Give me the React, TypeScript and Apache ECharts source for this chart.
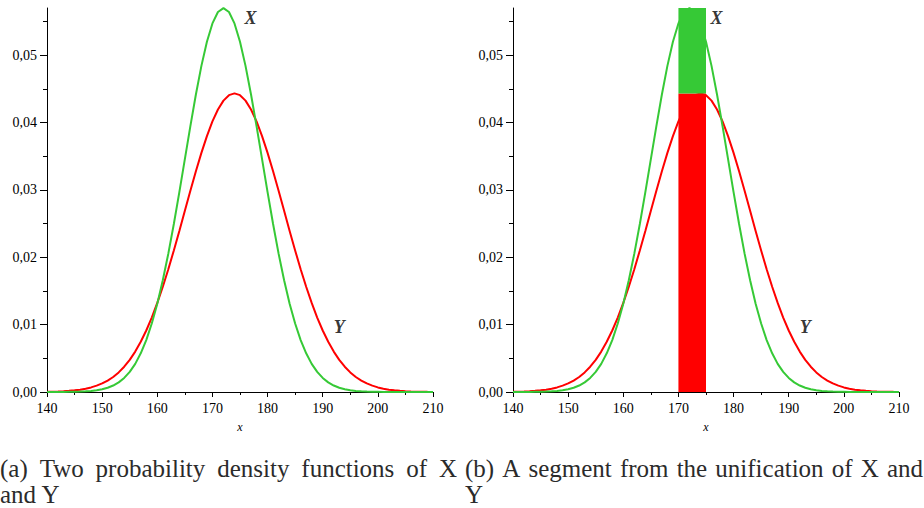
import React, { useEffect, useRef } from "react";
import * as echarts from "echarts";

// x positions sampled along the curves
const xValues = [140, 141, 142, 143, 144, 145, 146, 147, 148, 149, 150, 151, 152, 153, 154, 155, 156, 157, 158, 159, 160, 161, 162, 163, 164, 165, 166, 167, 168, 169, 170, 171, 172, 173, 174, 175, 176, 177, 178, 179, 180, 181, 182, 183, 184, 185, 186, 187, 188, 189, 190, 191, 192, 193, 194, 195, 196, 197, 198, 199, 200, 201, 202, 203, 204, 205, 206, 207, 208, 209, 210];
// density of X (green)
const densityX = [0.000002, 0.000003, 0.000006, 0.00001, 0.00002, 0.00003, 0.00006, 0.0001, 0.00016, 0.00026, 0.00041, 0.00063, 0.00096, 0.00143, 0.00209, 0.00299, 0.00418, 0.00574, 0.00771, 0.01016, 0.01311, 0.01658, 0.02054, 0.02494, 0.02966, 0.03457, 0.03947, 0.04416, 0.04841, 0.05199, 0.05471, 0.05641, 0.05699, 0.05641, 0.05471, 0.05199, 0.04841, 0.04416, 0.03947, 0.03457, 0.02966, 0.02494, 0.02054, 0.01658, 0.01311, 0.01016, 0.00771, 0.00574, 0.00418, 0.00299, 0.00209, 0.00143, 0.00096, 0.00063, 0.00041, 0.00026, 0.00016, 0.0001, 0.00006, 0.00003, 0.00002, 0.00001, 0.000006, 0.000003, 0.000002, 0, 0, 0, 0, 0, 0];
// density of Y (red)
const densityY = [0.00004, 0.00005, 0.00008, 0.00012, 0.00017, 0.00025, 0.00035, 0.00049, 0.00068, 0.00094, 0.00127, 0.00169, 0.00223, 0.00291, 0.00375, 0.00477, 0.006, 0.00745, 0.00913, 0.01105, 0.01322, 0.01562, 0.01822, 0.02101, 0.02391, 0.02689, 0.02986, 0.03276, 0.0355, 0.03799, 0.04016, 0.04193, 0.04325, 0.04406, 0.04433, 0.04406, 0.04325, 0.04193, 0.04016, 0.03799, 0.0355, 0.03276, 0.02986, 0.02689, 0.02391, 0.02101, 0.01822, 0.01562, 0.01322, 0.01105, 0.00913, 0.00745, 0.006, 0.00477, 0.00375, 0.00291, 0.00223, 0.00169, 0.00127, 0.00094, 0.00068, 0.00049, 0.00035, 0.00025, 0.00017, 0.00012, 0.00008, 0.00005, 0.00004, 0.00002, 0.00001];

// segment in panel (b): [xStart, xEnd, yFrom, yTo]
const segmentRed = [170, 175, 0, 0.0443];
const segmentGreen = [170, 175, 0.0443, 0.057];

const xMajorTicks = [140, 150, 160, 170, 180, 190, 200, 210];
const xMinorTicks = [145, 155, 165, 175, 185, 195, 205];
const yMajorTicks = [0, 0.01, 0.02, 0.03, 0.04, 0.05];
const yMinorTicks = [0.005, 0.015, 0.025, 0.035, 0.045, 0.055];

const labelX = [176.9, 0.0555];
const labelY = [193.0, 0.0096];

const captionA1 = ["(a)", "Two", "probability", "density", "functions", "of", "X"];
const captionA2 = "and Y";
const captionB1 = ["(b)", "A", "segment", "from", "the", "unification", "of", "X", "and"];
const captionB2 = "Y";

const GREEN = "#36c936";
const RED = "#ff0000";
const SERIF = "Liberation Serif";
const CAP_FONT_SIZE = 25;

function measure(text: string, font: string): number {
  const c = document.createElement("canvas").getContext("2d");
  if (!c) return text.length * 10;
  c.font = font;
  return c.measureText(text).width;
}

function justify(words: string[], x0: number, x1: number, y: number) {
  const font = `${CAP_FONT_SIZE}px "${SERIF}"`;
  const widths = words.map((w) => measure(w, font));
  const total = widths.reduce((a, b) => a + b, 0);
  const gap = (x1 - x0 - total) / (words.length - 1);
  let x = x0;
  return words.map((w, i) => {
    const el = {
      type: "text",
      x,
      y,
      style: { text: w, fontSize: CAP_FONT_SIZE, fontFamily: SERIF, fill: "#2b2b2b", verticalAlign: "middle", align: "left" },
    };
    x += widths[i] + gap;
    return el;
  });
}

function axesFor(grid: number) {
  const tickFont = { fontFamily: SERIF, fontSize: 14, color: "#000" };
  const xMajor = {
    type: "value", gridIndex: grid, min: 140, max: 210, interval: 10, position: "bottom",
    axisLine: { show: true, onZero: false, lineStyle: { color: "#000", width: 1 } },
    axisTick: { show: true, length: 5, customValues: xMajorTicks, lineStyle: { color: "#000" } },
    axisLabel: { show: true, customValues: xMajorTicks, margin: 9, ...tickFont },
    splitLine: { show: false },
    name: "x", nameLocation: "middle", nameGap: 29,
    nameTextStyle: { fontFamily: SERIF, fontStyle: "italic", fontSize: 12, color: "#000" },
  };
  const xMinor = {
    type: "value", gridIndex: grid, min: 140, max: 210, interval: 10, position: "bottom",
    axisLine: { show: false, onZero: false },
    axisTick: { show: true, length: 3, customValues: xMinorTicks, lineStyle: { color: "#000" } },
    axisLabel: { show: false },
    splitLine: { show: false },
  };
  const yMajor = {
    type: "value", gridIndex: grid, min: 0, max: 0.057, interval: 0.01, position: "left",
    axisLine: { show: true, onZero: false, lineStyle: { color: "#000", width: 1 } },
    axisTick: { show: true, length: 7, customValues: yMajorTicks, lineStyle: { color: "#000" } },
    axisLabel: { show: true, customValues: yMajorTicks, margin: 10, formatter: (v: number) => v.toFixed(2).replace(".", ","), ...tickFont },
    splitLine: { show: false },
  };
  const yMinor = {
    type: "value", gridIndex: grid, min: 0, max: 0.057, interval: 0.01, position: "left",
    axisLine: { show: false, onZero: false },
    axisTick: { show: true, length: 4, customValues: yMinorTicks, lineStyle: { color: "#000" } },
    axisLabel: { show: false },
    splitLine: { show: false },
  };
  return { x: [xMajor, xMinor], y: [yMajor, yMinor] };
}

export default function App() {
  const ref = useRef<HTMLDivElement>(null);
  useEffect(() => {
    if (!ref.current) return;
    const chart = echarts.init(ref.current, null, { renderer: "svg" });
    const a0 = axesFor(0);
    const a1 = axesFor(1);
    const greenData = xValues.map((x, i) => [x, densityX[i]]);
    const redData = xValues.map((x, i) => [x, densityY[i]]);

    const lineSeries = (data: number[][], color: string, axisIdx: number) => ({
      type: "line", data, xAxisIndex: axisIdx, yAxisIndex: axisIdx, symbol: "none", smooth: false,
      lineStyle: { color, width: 2 }, z: 2, silent: true,
    });
    const labelSeries = (axisIdx: number) => ({
      type: "scatter", xAxisIndex: axisIdx, yAxisIndex: axisIdx, symbolSize: 1,
      itemStyle: { color: "transparent" }, z: 5, silent: true,
      data: [
        { name: "X", value: labelX },
        { name: "Y", value: labelY },
      ],
      label: { show: true, position: "inside", formatter: "{b}", fontFamily: SERIF, fontStyle: "italic", fontWeight: "bold", fontSize: 18, color: "#000" },
    });
    const segColors = [RED, GREEN];

    chart.setOption({
      animation: false,
      backgroundColor: "#fff",
      grid: [
        { left: 47, top: 8, width: 386, height: 384 },
        { left: 513, top: 8, width: 386, height: 384 },
      ],
      xAxis: [...a0.x, ...a1.x],
      yAxis: [...a0.y, ...a1.y],
      series: [
        lineSeries(redData, RED, 0),
        lineSeries(greenData, GREEN, 0),
        labelSeries(0),
        lineSeries(redData, RED, 2),
        lineSeries(greenData, GREEN, 2),
        {
          type: "custom", xAxisIndex: 2, yAxisIndex: 2, z: 3, silent: true,
          data: [segmentRed, segmentGreen],
          renderItem: (params: any, api: any) => {
            const p0 = api.coord([api.value(0), api.value(3)]);
            const p1 = api.coord([api.value(1), api.value(2)]);
            return {
              type: "rect",
              shape: { x: p0[0], y: p0[1], width: p1[0] - p0[0], height: p1[1] - p0[1] },
              style: { fill: segColors[params.dataIndex] },
            };
          },
        },
        labelSeries(2),
      ],
      graphic: [
        ...justify(captionA1, 0, 457, 468),
        { type: "text", x: 0, y: 494, style: { text: captionA2, fontSize: CAP_FONT_SIZE, fontFamily: SERIF, fill: "#2b2b2b", verticalAlign: "middle", align: "left" } },
        ...justify(captionB1, 465, 923, 468),
        { type: "text", x: 465, y: 494, style: { text: captionB2, fontSize: CAP_FONT_SIZE, fontFamily: SERIF, fill: "#2b2b2b", verticalAlign: "middle", align: "left" } },
      ],
    });
    return () => chart.dispose();
  }, []);
  return <div ref={ref} style={{ position: "absolute", left: 0, top: 0, width: 924, height: 508 }} />;
}
